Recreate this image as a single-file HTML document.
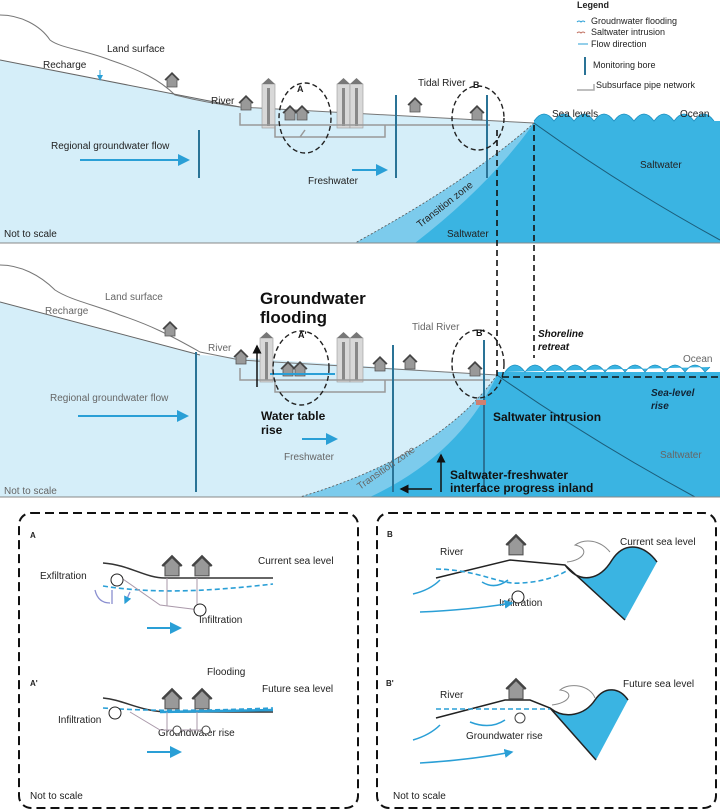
<!DOCTYPE html>
<html><head><meta charset="utf-8"><style>
html,body{margin:0;padding:0;background:#fff}
svg{display:block;font-family:"Liberation Sans",Arial,sans-serif}
</style></head><body>
<svg width="720" height="811" viewBox="0 0 720 811" xmlns="http://www.w3.org/2000/svg">
<defs>
<marker id="ar" markerWidth="6" markerHeight="6" refX="5" refY="3" orient="auto"><path d="M0,0 L6,3 L0,6z" fill="#2a9fd6"/></marker>
<marker id="ak" markerWidth="6" markerHeight="6" refX="5" refY="3" orient="auto"><path d="M0,0 L6,3 L0,6z" fill="#111"/></marker>
<g id="house"><path d="M-6,0 L0,-6 L6,0 L5,0 L5,7 L-5,7 L-5,0z" fill="#999" stroke="#555" stroke-width="0.8"/><path d="M-7,0 L0,-7 L7,0" fill="none" stroke="#444" stroke-width="1.5"/></g>
<g id="bld"><rect x="0" y="0" width="13" height="44" fill="#d8d8d8" stroke="#999" stroke-width="0.6"/><rect x="5" y="4" width="3" height="38" fill="#888"/><path d="M0,0 L6.5,-6 L13,0z" fill="#777"/></g>
</defs>

<!-- ===== TOP PANEL ===== -->
<path d="M0,60 L240,107 L534,123 L534,243 L0,243z" fill="#d5eef9"/>
<path d="M534,123 Q470,180 355,243 L534,243z" fill="#7ccbec"/>
<path d="M534,123 Q490,185 415,243 L534,243z" fill="#3ab4e2"/>
<path d="M534,123 Q470,180 355,243" fill="none" stroke="#555" stroke-width="0.8" stroke-dasharray="2,2"/>
<path d="M534,121 L720,121 L720,243 L534,243z" fill="#3ab4e2"/>
<path d="M534,123 Q620,185 720,240" fill="none" stroke="#1c5d7a" stroke-width="1"/>
<path d="M534,121 q10,-14 20,0 q10,-14 20,0 q10,-14 20,0 q10,-14 20,0 q10,-14 20,0 q10,-14 20,0 q10,-14 20,0 q10,-14 20,0 q10,-14 20,0" fill="#3ab4e2" stroke="#1c8fc0" stroke-width="0.8"/>
<path d="M0,15 C20,15 40,25 50,40 C60,48 85,50 110,60 C140,70 160,80 175,95 C195,100 215,104 240,107 L534,123" fill="none" stroke="#777" stroke-width="1"/>
<path d="M0,60 L240,107" stroke="#666" stroke-width="1"/>
<line x1="0" y1="243" x2="720" y2="243" stroke="#888" stroke-width="1"/>
<use href="#bld" x="262" y="84"/><use href="#bld" x="337" y="84"/><use href="#bld" x="350" y="84"/>
<use href="#house" x="172" y="80"/><use href="#house" x="246" y="103"/><use href="#house" x="290" y="113"/><use href="#house" x="302" y="113"/><use href="#house" x="415" y="105"/><use href="#house" x="477" y="113"/>
<path d="M240,113 L240,125 L490,125 M275,125 L275,137 L385,137 L385,125 M300,137 L305,130" fill="none" stroke="#999" stroke-width="1.5"/>
<line x1="199" y1="130" x2="199" y2="178" stroke="#2a7396" stroke-width="2"/>
<line x1="396" y1="95" x2="396" y2="178" stroke="#2a7396" stroke-width="2"/>
<line x1="487" y1="95" x2="487" y2="178" stroke="#2a7396" stroke-width="2"/>
<ellipse cx="305" cy="118" rx="26" ry="35" fill="none" stroke="#222" stroke-width="1.4" stroke-dasharray="5,3"/>
<ellipse cx="478" cy="118" rx="26" ry="32" fill="none" stroke="#222" stroke-width="1.4" stroke-dasharray="5,3"/>
<line x1="80" y1="160" x2="188" y2="160" stroke="#2a9fd6" stroke-width="2" marker-end="url(#ar)"/>
<line x1="352" y1="170" x2="386" y2="170" stroke="#2a9fd6" stroke-width="2" marker-end="url(#ar)"/>
<line x1="100" y1="70" x2="100" y2="80" stroke="#2a9fd6" stroke-width="1" marker-end="url(#ar)"/>
<g font-size="10" fill="#222">
<text x="107" y="52">Land surface</text><text x="43" y="68">Recharge</text><text x="211" y="104">River</text>
<text x="51" y="149">Regional groundwater flow</text><text x="308" y="184">Freshwater</text>
<text x="418" y="86">Tidal River</text><text x="473" y="88" font-weight="bold" font-size="9">B</text><text x="297" y="92" font-weight="bold" font-size="9">A</text>
<text x="552" y="117">Sea levels</text><text x="680" y="117">Ocean</text><text x="640" y="168">Saltwater</text>
<text x="447" y="237">Saltwater</text><text x="4" y="237">Not to scale</text>
<text x="420" y="228" transform="rotate(-38 420 228)">Transition zone</text>
</g>
<g font-size="9" fill="#222">
<text x="577" y="8" font-weight="bold">Legend</text>
<path d="M577,22 q2,-2 4,0 q2,-2 4,0" stroke="#2a9fd6" fill="none"/><text x="591" y="24">Groudnwater flooding</text>
<path d="M577,33 q2,-2 4,0 q2,-2 4,0" stroke="#c07060" fill="none"/><text x="591" y="35">Saltwater intrusion</text>
<line x1="578" y1="44" x2="588" y2="44" stroke="#2a9fd6"/><text x="591" y="47">Flow direction</text>
<line x1="585" y1="57" x2="585" y2="75" stroke="#2a7396" stroke-width="2"/><text x="593" y="68">Monitoring bore</text>
<path d="M577,90 L594,90 L594,84" stroke="#aaa" fill="none" stroke-width="1.5"/><text x="596" y="88">Subsurface pipe network</text>
</g>

<!-- ===== MIDDLE PANEL ===== -->
<path d="M0,302 L200,355 L497,375 L497,497 L0,497z" fill="#d5eef9"/>
<path d="M497,375 Q440,455 300,497 L497,497z" fill="#7ccbec"/>
<path d="M497,375 Q460,455 370,497 L497,497z" fill="#3ab4e2"/>
<path d="M497,375 Q440,455 300,497" fill="none" stroke="#555" stroke-width="0.8" stroke-dasharray="2,2"/>
<path d="M497,372 L720,372 L720,497 L497,497z" fill="#3ab4e2"/>
<path d="M497,375 Q590,440 695,497" fill="none" stroke="#1c5d7a" stroke-width="1"/>
<path d="M505,372 q10,-14 20,0 q10,-14 20,0 q10,-14 20,0 q10,-14 20,0 q10,-14 20,0 q10,-14 20,0 q10,-14 20,0 q10,-14 20,0 q10,-14 20,0 q10,-14 20,0 l5,-5" fill="#3ab4e2" stroke="#1c8fc0" stroke-width="0.8"/>
<path d="M0,265 C20,265 40,275 55,290 C70,300 95,305 120,315 C150,325 170,335 200,352 L240,360 L497,375" fill="none" stroke="#777" stroke-width="1"/>
<path d="M0,302 L200,355" stroke="#666" stroke-width="1"/>
<line x1="0" y1="497" x2="720" y2="497" stroke="#888" stroke-width="1"/>
<use href="#bld" x="260" y="338"/><use href="#bld" x="337" y="338"/><use href="#bld" x="350" y="338"/>
<use href="#house" x="170" y="329"/><use href="#house" x="241" y="357"/><use href="#house" x="288" y="369"/><use href="#house" x="300" y="369"/><use href="#house" x="380" y="364"/><use href="#house" x="410" y="362"/><use href="#house" x="475" y="369"/>
<path d="M240,368 L240,380 L490,380 M275,380 L275,392 L385,392 L385,380" fill="none" stroke="#999" stroke-width="1.5"/>
<path d="M270,374 L335,374" stroke="#2a9fd6" stroke-width="2"/>
<line x1="196" y1="352" x2="196" y2="492" stroke="#2a7396" stroke-width="2"/>
<line x1="393" y1="345" x2="393" y2="492" stroke="#2a7396" stroke-width="2"/>
<line x1="484" y1="340" x2="484" y2="492" stroke="#2a7396" stroke-width="2"/>
<ellipse cx="301" cy="368" rx="28" ry="37" fill="none" stroke="#222" stroke-width="1.4" stroke-dasharray="5,3"/>
<ellipse cx="478" cy="364" rx="26" ry="34" fill="none" stroke="#222" stroke-width="1.4" stroke-dasharray="5,3"/>
<rect x="476" y="400" width="10" height="5" fill="#d08070"/>
<line x1="78" y1="416" x2="187" y2="416" stroke="#2a9fd6" stroke-width="2" marker-end="url(#ar)"/>
<line x1="302" y1="439" x2="336" y2="439" stroke="#2a9fd6" stroke-width="2" marker-end="url(#ar)"/>
<line x1="257" y1="387" x2="257" y2="346" stroke="#111" stroke-width="1.5" marker-end="url(#ak)"/>
<line x1="441" y1="492" x2="441" y2="455" stroke="#111" stroke-width="1.5" marker-end="url(#ak)"/>
<line x1="432" y1="489" x2="401" y2="489" stroke="#111" stroke-width="1.5" marker-end="url(#ak)"/>
<path d="M497,130 L497,377 M534,125 L534,358" stroke="#111" stroke-width="1.6" stroke-dasharray="6,4" fill="none"/>
<path d="M502,377 L720,377" stroke="#111" stroke-width="1.6" stroke-dasharray="7,4"/>
<g font-size="10" fill="#666">
<text x="105" y="300">Land surface</text><text x="45" y="314">Recharge</text><text x="208" y="351">River</text>
<text x="50" y="401">Regional groundwater flow</text><text x="284" y="460">Freshwater</text>
<text x="412" y="330">Tidal River</text><text x="660" y="458">Saltwater</text><text x="683" y="362">Ocean</text>
<text x="4" y="494">Not to scale</text>
<text x="360" y="490" transform="rotate(-35 360 490)">Transition zone</text>
</g>
<g fill="#111" font-weight="bold">
<text x="260" y="304" font-size="17">Groundwater</text><text x="260" y="323" font-size="17">flooding</text>
<text x="261" y="420" font-size="12">Water table</text><text x="261" y="434" font-size="12">rise</text>
<text x="493" y="421" font-size="12">Saltwater intrusion</text>
<text x="450" y="479" font-size="12">Saltwater-freshwater</text><text x="450" y="492" font-size="12">interface progress inland</text>
<text x="538" y="337" font-size="10" font-style="italic">Shoreline</text><text x="538" y="350" font-size="10" font-style="italic">retreat</text>
<text x="651" y="396" font-size="10" font-style="italic" fill="#123">Sea-level</text><text x="651" y="409" font-size="10" font-style="italic" fill="#123">rise</text>
<text x="298" y="338" font-size="9">A'</text><text x="476" y="336" font-size="9">B'</text>
</g>

<!-- ===== BOTTOM LEFT BOX ===== -->
<rect x="19" y="513" width="339" height="295" rx="12" fill="none" stroke="#111" stroke-width="2" stroke-dasharray="9,5"/>
<g font-size="10" fill="#222">
<text x="30" y="538" font-size="8" font-weight="bold">A</text><text x="30" y="686" font-size="8" font-weight="bold">A'</text>
<text x="258" y="564">Current sea level</text><text x="40" y="579">Exfiltration</text><text x="199" y="623">Infiltration</text>
<text x="207" y="675">Flooding</text><text x="262" y="692">Future sea level</text><text x="58" y="723">Infiltration</text>
<text x="158" y="736">Groundwater rise</text><text x="30" y="799">Not to scale</text>
</g>
<path d="M103,563 C130,565 145,578 165,578 L273,578" fill="none" stroke="#333" stroke-width="1.5"/>
<use href="#house" transform="translate(172,566) scale(1.4)"/><use href="#house" transform="translate(202,566) scale(1.4)"/>
<path d="M103,586 C160,595 220,590 273,584" fill="none" stroke="#2a9fd6" stroke-width="1.6" stroke-dasharray="5,3"/>
<path d="M120,577 L160,605 L200,610 M167,578 L167,606 M197,578 L197,606" fill="none" stroke="#a9a" stroke-width="1"/>
<circle cx="117" cy="580" r="6" fill="#fff" stroke="#222"/><circle cx="200" cy="610" r="6" fill="#fff" stroke="#222"/>
<path d="M95,590 Q98,603 110,603 M112,590 L112,604 M130,592 L125,603" fill="none" stroke="#8a8fd0" stroke-width="1.3" marker-end="url(#ar)"/>
<line x1="147" y1="628" x2="180" y2="628" stroke="#2a9fd6" stroke-width="2" marker-end="url(#ar)"/>
<path d="M103,698 C125,700 140,712 170,712 L273,712" fill="none" stroke="#333" stroke-width="1.5"/>
<path d="M103,708 C160,712 220,710 273,708" fill="none" stroke="#2a9fd6" stroke-width="1.6" stroke-dasharray="5,3"/>
<path d="M160,712 L273,710" stroke="#2a9fd6" stroke-width="2.5"/>
<use href="#house" transform="translate(172,699) scale(1.4)"/><use href="#house" transform="translate(202,699) scale(1.4)"/>
<path d="M130,712 L160,730 L210,730 M167,712 L167,730 M197,712 L197,730" fill="none" stroke="#a9a" stroke-width="1"/>
<circle cx="115" cy="713" r="6" fill="#fff" stroke="#222"/><circle cx="177" cy="730" r="4" fill="#fff" stroke="#444"/><circle cx="206" cy="730" r="4" fill="#fff" stroke="#444"/>
<line x1="147" y1="752" x2="180" y2="752" stroke="#2a9fd6" stroke-width="2" marker-end="url(#ar)"/>

<!-- ===== BOTTOM RIGHT BOX ===== -->
<rect x="377" y="513" width="339" height="295" rx="12" fill="none" stroke="#111" stroke-width="2" stroke-dasharray="9,5"/>
<g font-size="10" fill="#222">
<text x="387" y="537" font-size="8" font-weight="bold">B</text><text x="386" y="686" font-size="8" font-weight="bold">B'</text>
<text x="440" y="555">River</text><text x="620" y="545">Current sea level</text><text x="499" y="606">Infiltration</text>
<text x="440" y="698">River</text><text x="623" y="687">Future sea level</text><text x="466" y="739">Groundwater rise</text>
<text x="393" y="799">Not to scale</text>
</g>
<path d="M565,565 C580,585 600,580 612,560 C625,540 645,545 657,562 L625,620z" fill="#3ab4e2"/>
<path d="M436,578 L510,560 L565,565 L625,620 M565,565 C580,585 600,580 612,560 C625,540 645,545 657,562" fill="none" stroke="#222" stroke-width="1.5"/>
<path d="M567,562 C585,560 590,548 575,545 C585,538 600,540 610,552" fill="none" stroke="#888" stroke-width="1"/>
<use href="#house" transform="translate(516,545) scale(1.4)"/>
<path d="M436,569 C480,570 500,585 520,583 C545,582 560,575 568,570" fill="none" stroke="#2a9fd6" stroke-width="1.6" stroke-dasharray="5,3"/>
<circle cx="518" cy="597" r="6" fill="#fff" stroke="#222"/>
<path d="M413,594 Q430,590 440,580 M508,580 Q495,590 482,582 M420,612 Q470,610 512,603" fill="none" stroke="#2a9fd6" stroke-width="1.5" marker-end="url(#ar)"/>
<path d="M550,708 C565,720 585,715 595,700 C605,685 620,688 628,700 L596,760z" fill="#3ab4e2"/>
<path d="M436,718 L505,700 L530,700 L550,708 L596,760 M550,708 C565,720 585,715 595,700 C605,685 620,688 628,700" fill="none" stroke="#222" stroke-width="1.5"/>
<path d="M552,705 C570,703 575,692 560,690 C570,682 590,685 595,698" fill="none" stroke="#888" stroke-width="1"/>
<use href="#house" transform="translate(516,689) scale(1.4)"/>
<path d="M436,709 L550,709" stroke="#2a9fd6" stroke-width="1.6" stroke-dasharray="5,3"/>
<circle cx="520" cy="718" r="5" fill="#fff" stroke="#444"/>
<path d="M413,740 Q430,735 440,725 M505,720 Q490,730 470,722 M420,763 Q470,760 512,752" fill="none" stroke="#2a9fd6" stroke-width="1.5" marker-end="url(#ar)"/>
</svg>
</body></html>
